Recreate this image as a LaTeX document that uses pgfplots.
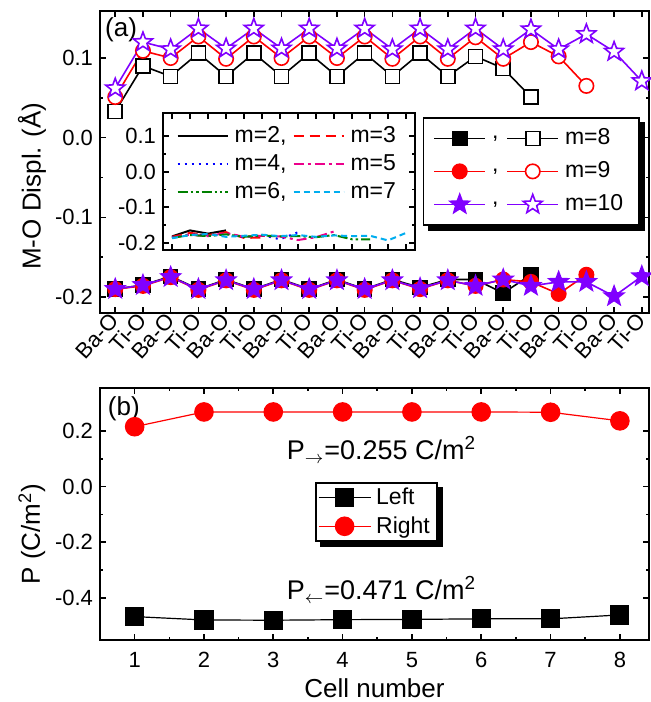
\documentclass[border=0pt]{standalone}
\usepackage{fontspec}
\setmainfont{Liberation Sans}
\usepackage{pgfplots}
\pgfplotsset{compat=1.18}
\usetikzlibrary{backgrounds}
\definecolor{mpurple}{RGB}{128,0,255}
\definecolor{mgreen}{RGB}{0,128,0}
\newcommand\tfs{\fontsize{11}{13}\selectfont}
\newcommand\lfs{\fontsize{13}{15}\selectfont}
\newcommand\gfs{\fontsize{11.5}{13}\selectfont}
\pgfdeclareplotmark{pstar}{%
  \pgfpathmoveto{\pgfpointpolar{90}{\pgfplotmarksize}}%
  \pgfpathlineto{\pgfpointpolar{126}{0.42\pgfplotmarksize}}%
  \pgfpathlineto{\pgfpointpolar{162}{\pgfplotmarksize}}%
  \pgfpathlineto{\pgfpointpolar{198}{0.42\pgfplotmarksize}}%
  \pgfpathlineto{\pgfpointpolar{234}{\pgfplotmarksize}}%
  \pgfpathlineto{\pgfpointpolar{270}{0.42\pgfplotmarksize}}%
  \pgfpathlineto{\pgfpointpolar{306}{\pgfplotmarksize}}%
  \pgfpathlineto{\pgfpointpolar{342}{0.42\pgfplotmarksize}}%
  \pgfpathlineto{\pgfpointpolar{18}{\pgfplotmarksize}}%
  \pgfpathlineto{\pgfpointpolar{54}{0.42\pgfplotmarksize}}%
  \pgfpathclose
  \pgfusepathqfillstroke
}
\pgfplotsset{
  mystyle/.style={
    scale only axis,
    axis line style={line width=0.8pt},
    every tick/.style={line width=0.8pt, black},
    major tick length=3pt, minor tick length=1.6pt,
    tick align=inside,
    yticklabel style={font=\tfs},
    xticklabel style={font=\tfs},
  }
}
\begin{document}
\begin{tikzpicture}[x=1pt,y=1pt]
\useasboundingbox (0,0) rectangle (325.5,351);
% ---------------- top panel ----------------
\begin{axis}[mystyle,
  width=274.5pt, height=151pt,
  at={(50pt,194.5pt)}, anchor=south west,
  xmin=-0.55, xmax=19.26, ymin=-0.22, ymax=0.159,
  xtick={0,...,19},
  xticklabels={Ba-O,Ti-O,Ba-O,Ti-O,Ba-O,Ti-O,Ba-O,Ti-O,Ba-O,Ti-O,Ba-O,Ti-O,Ba-O,Ti-O,Ba-O,Ti-O,Ba-O,Ti-O,Ba-O,Ti-O},
  xticklabel style={rotate=48, anchor=east, inner sep=1.5pt, yshift=-1pt},
  ytick={-0.2,-0.1,0,0.1}, yticklabels={-0.2,-0.1,0.0,0.1},
  minor y tick num=1,
  ylabel={M-O Displ. (Å)},
  ylabel style={font=\lfs, at={(axis description cs:-0.124,0.42)}, anchor=center},
  legend columns=2,
  legend cell align=left,
  legend image code/.code={\draw[mark repeat=2,mark phase=2,#1] plot coordinates {(0pt,0pt) (12.75pt,0pt) (25.5pt,0pt)};},
  legend style={name=tleg, at={(0.9836,0.649)}, anchor=north east, font=\gfs, draw=black, fill=white, line width=0.8pt,
    inner xsep=5pt, inner ysep=3.5pt, row sep=3pt,
    nodes={inner xsep=3pt},
    /tikz/every even column/.append style={column sep=1pt}},
]
\addplot[black, line width=0.8pt, mark=square*, mark size=3.5pt, mark options={solid, fill=black}]
 coordinates {(0,-0.190)(1,-0.185)(2,-0.174)(3,-0.190)(4,-0.178)(5,-0.190)(6,-0.178)(7,-0.190)(8,-0.178)(9,-0.190)(10,-0.178)(11,-0.188)(12,-0.178)(13,-0.178)(14,-0.195)(15,-0.172)};
\addlegendentry{,}
\addplot[black, line width=0.8pt, mark=square*, mark size=3.5pt, mark options={solid, fill=white}]
 coordinates {(0,0.033)(1,0.090)(2,0.077)(3,0.106)(4,0.077)(5,0.106)(6,0.077)(7,0.106)(8,0.077)(9,0.106)(10,0.077)(11,0.106)(12,0.077)(13,0.102)(14,0.087)(15,0.051)};
\addlegendentry{m=8}
\addplot[red, line width=0.8pt, mark=*, mark size=3.6pt, mark options={solid, fill=red}]
 coordinates {(0,-0.190)(1,-0.186)(2,-0.175)(3,-0.191)(4,-0.179)(5,-0.191)(6,-0.179)(7,-0.191)(8,-0.179)(9,-0.191)(10,-0.179)(11,-0.190)(12,-0.179)(13,-0.186)(14,-0.178)(15,-0.181)(16,-0.196)(17,-0.172)};
\addlegendentry{,}
\addplot[red, line width=0.8pt, mark=*, mark size=3.6pt, mark options={solid, fill=white}]
 coordinates {(0,0.051)(1,0.109)(2,0.100)(3,0.127)(4,0.099)(5,0.127)(6,0.100)(7,0.127)(8,0.100)(9,0.127)(10,0.099)(11,0.127)(12,0.099)(13,0.126)(14,0.099)(15,0.120)(16,0.102)(17,0.065)};
\addlegendentry{m=9}
\addplot[mpurple, line width=0.8pt, mark=pstar, mark size=5pt, mark options={solid, fill=mpurple}]
 coordinates {(0,-0.190)(1,-0.185)(2,-0.175)(3,-0.190)(4,-0.179)(5,-0.190)(6,-0.179)(7,-0.190)(8,-0.179)(9,-0.190)(10,-0.179)(11,-0.189)(12,-0.179)(13,-0.186)(14,-0.178)(15,-0.186)(16,-0.181)(17,-0.181)(18,-0.199)(19,-0.174)};
\addlegendentry{,}
\addplot[mpurple, line width=0.8pt, mark=pstar, mark size=5pt, mark options={solid, fill=white}]
 coordinates {(0,0.062)(1,0.120)(2,0.111)(3,0.137)(4,0.112)(5,0.137)(6,0.112)(7,0.137)(8,0.112)(9,0.137)(10,0.111)(11,0.137)(12,0.111)(13,0.137)(14,0.111)(15,0.136)(16,0.111)(17,0.130)(18,0.108)(19,0.071)};
\addlegendentry{m=10}
\node[anchor=north west, font=\lfs, inner sep=1pt] at (rel axis cs:0.005,0.985) {(a)};
\end{axis}
\begin{scope}[on background layer]
\fill[black] ([xshift=2.5pt,yshift=-2.5pt]tleg.south west) rectangle ([xshift=2.5pt,yshift=-2.5pt]tleg.north east);
\end{scope}
% ---------------- inset ----------------
\begin{axis}[mystyle,
  width=126pt, height=68.5pt,
  at={(81.5pt,226pt)}, anchor=south west,
  axis background/.style={fill=white},
  xmin=-0.5, xmax=13.5, ymin=-0.22, ymax=0.165,
  xtick={0,...,13}, xticklabels={},
  ytick={-0.2,-0.1,0,0.1}, yticklabels={-0.2,-0.1,0.0,0.1},
  minor y tick num=1,
  legend columns=2,
  legend cell align=left,
  legend image code/.code={\draw[#1] (0pt,0pt) -- (25pt,0pt);},
  legend style={at={(0.045,0.95)}, anchor=north west, font=\gfs, draw=none, fill=none,
    inner sep=1pt, row sep=0.5pt,
    nodes={inner xsep=3pt},
    /tikz/every even column/.append style={column sep=0pt}},
]
\addplot[black, line width=1pt, solid] coordinates {(0,-0.182)(1,-0.165)(2,-0.174)(3,-0.165)};
\addlegendentry{m=2,}
\addplot[red, line width=1pt, dash pattern=on 5pt off 3pt] coordinates {(0,-0.183)(1,-0.172)(2,-0.178)(3,-0.170)(4,-0.186)(5,-0.185)};
\addlegendentry{m=3}
\addplot[blue, line width=1pt, dash pattern=on 1pt off 2.5pt] coordinates {(0,-0.184)(1,-0.176)(2,-0.180)(3,-0.174)(4,-0.184)(5,-0.178)(6,-0.190)(7,-0.170)};
\addlegendentry{m=4,}
\addplot[magenta, line width=1pt, dash pattern=on 5pt off 2pt on 1.5pt off 2pt] coordinates {(0,-0.185)(1,-0.177)(2,-0.181)(3,-0.172)(4,-0.183)(5,-0.180)(6,-0.182)(7,-0.192)(8,-0.184)(9,-0.168)};
\addlegendentry{m=5}
\addplot[mgreen, line width=1pt, dash pattern=on 5pt off 1.5pt on 1.2pt off 1.5pt on 1.2pt off 1.5pt] coordinates {(0,-0.186)(1,-0.178)(2,-0.181)(3,-0.176)(4,-0.183)(5,-0.179)(6,-0.182)(7,-0.181)(8,-0.184)(9,-0.178)(10,-0.190)(11,-0.190)};
\addlegendentry{m=6,}
\addplot[cyan, line width=1pt, dash pattern=on 3pt off 2pt] coordinates {(0,-0.187)(1,-0.178)(2,-0.175)(3,-0.183)(4,-0.180)(5,-0.177)(6,-0.181)(7,-0.178)(8,-0.183)(9,-0.179)(10,-0.181)(11,-0.180)(12,-0.193)(13,-0.172)};
\addlegendentry{m=7}
\end{axis}
% ---------------- bottom panel ----------------
\begin{axis}[mystyle,
  width=274.5pt, height=126pt,
  at={(50pt,31pt)}, anchor=south west,
  xmin=0.5, xmax=8.42, ymin=-0.551, ymax=0.354,
  xtick={1,...,8}, xticklabels={1,2,3,4,5,6,7,8},
  xticklabel style={yshift=-2.5pt},
  minor x tick num=1,
  ytick={-0.4,-0.2,0,0.2}, yticklabels={-0.4,-0.2,0.0,0.2},
  minor y tick num=1,
  xlabel={Cell number},
  xlabel style={font=\lfs, at={(axis description cs:0.5,-0.19)}, anchor=center},
  ylabel={P (C/m\textsuperscript{2})},
  ylabel style={font=\lfs, at={(axis description cs:-0.124,0.42)}, anchor=center},
  legend cell align=left,
  legend image code/.code={\draw[mark repeat=2,mark phase=2,#1] plot coordinates {(0pt,0pt) (13pt,0pt) (26pt,0pt)};},
  legend style={name=bleg, at={(0.392,0.627)}, anchor=north west, font=\gfs, draw=black, fill=white, line width=0.8pt,
    inner xsep=1pt, inner ysep=0.5pt, row sep=0.5pt, nodes={inner xsep=2.5pt}},
]
\addplot[black, line width=0.6pt, mark=square*, mark size=4.5pt, mark options={solid, fill=black}]
 coordinates {(1,-0.467)(2,-0.479)(3,-0.480)(4,-0.478)(5,-0.477)(6,-0.475)(7,-0.475)(8,-0.461)};
\addlegendentry{Left}
\addplot[red, line width=0.6pt, mark=*, mark size=4.6pt, mark options={solid, fill=red}]
 coordinates {(1,0.215)(2,0.268)(3,0.268)(4,0.268)(5,0.268)(6,0.268)(7,0.267)(8,0.236)};
\addlegendentry{Right}
\node[anchor=north west, font=\lfs, inner sep=1pt] at (rel axis cs:0.01,0.975) {(b)};
\node[font=\fontsize{13.5}{15}\selectfont] at (axis cs:4.56,0.132) {P$_{\rightarrow}$=0.255 C/m\textsuperscript{2}};
\node[font=\fontsize{13.5}{15}\selectfont] at (axis cs:4.56,-0.371) {P$_{\leftarrow}$=0.471 C/m\textsuperscript{2}};
\end{axis}
\begin{scope}[on background layer]
\fill[black] ([xshift=2.5pt,yshift=-2.5pt]bleg.south west) rectangle ([xshift=2.5pt,yshift=-2.5pt]bleg.north east);
\end{scope}
\end{tikzpicture}
\end{document}
